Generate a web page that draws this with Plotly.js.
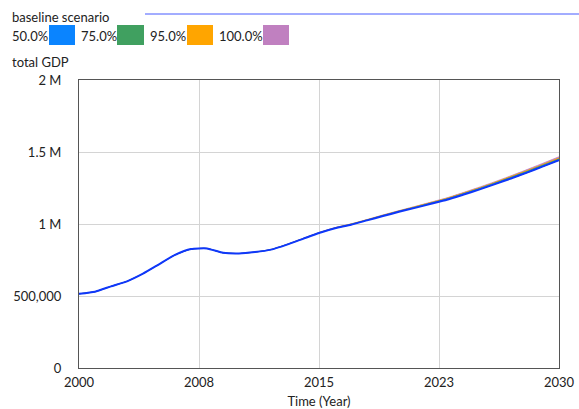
<!DOCTYPE html>
<html>
<head>
<meta charset="utf-8">
<script src="https://cdn.plot.ly/plotly-3.0.1.min.js"></script>
<style>html,body{margin:0;padding:0;background:#fff;}#chart{width:579px;height:409px;}</style>
</head>
<body>
<div id="chart"></div>
<script>
// Years
const years = [2000,2001,2002,2003,2004,2005,2006,2007,2008,2009,2010,2011,2012,2013,2014,2015,2016,2017,2018,2019,2020,2021,2022,2023,2024,2025,2026,2027,2028,2029,2030];
// baseline scenario: total GDP
const baseline = [515000,530000,567000,602000,655000,720000,785000,826000,830000,800000,795000,805000,822000,857000,897000,937000,970000,995000,1025000,1055000,1085000,1112000,1140000,1168000,1203000,1239000,1277000,1316000,1357000,1400000,1444000];
// sensitivity band lower bound (shared)
const bandLower = [515000,530000,567000,602000,655000,720000,785000,826000,830000,800000,795000,805000,822000,857000,897000,937000,970000,995000,1025000,1055000,1085000,1112000,1140000,1168000,1202000,1238000,1276000,1315000,1355000,1398000,1441000];
// upper bounds of the confidence bands
const upper50 = [515000,530000,567000,602000,655000,720000,785000,826000,830000,800000,795000,805000,822000,857000,897000,938000,971000,996000,1026000,1057000,1087000,1115000,1143000,1172000,1207000,1243000,1281000,1320000,1361000,1404000,1448000];
const upper75 = [515000,530000,567000,602000,655000,720000,785000,826000,830000,800000,795000,805000,822000,858000,898000,939000,972000,998000,1028000,1059000,1089000,1117000,1146000,1175000,1210000,1246000,1285000,1325000,1366000,1409000,1452000];
const upper95 = [515000,530000,567000,602000,655000,720000,785000,826000,830000,800000,795000,805000,823000,858000,899000,940000,974000,1000000,1030000,1061000,1091000,1120000,1149000,1179000,1214000,1250000,1289000,1330000,1371000,1414000,1458000];
const upper100 = [515000,530000,567000,602000,655000,720000,785000,826000,830000,800000,795000,805000,823000,859000,900000,941000,975000,1001000,1031000,1063000,1093000,1122000,1152000,1182000,1218000,1255000,1294000,1335000,1378000,1422000,1467000];

const bandNames = ['100.0%','95.0%','75.0%','50.0%'];
const bandUppers = [upper100, upper95, upper75, upper50];
const bandColors = ['rgb(192,128,192)','rgb(255,165,0)','rgb(64,160,96)','rgb(10,132,255)'];

const xTickVals = [2000,2007.5,2015,2022.5,2030];
const xTickText = ['2000','2008','2015','2023','2030'];
const yTickVals = [0,500000,1000000,1500000,2000000];
const yTickText = ['0','500,000','1 M','1.5 M','2 M'];

const traces = [];
bandUppers.forEach((u,i)=>{
  traces.push({x:years,y:bandLower,type:'scatter',mode:'lines',line:{width:0,color:bandColors[i],shape:'spline',smoothing:0.5},hoverinfo:'skip',showlegend:false});
  traces.push({x:years,y:u,type:'scatter',mode:'lines',fill:'tonexty',fillcolor:bandColors[i],line:{width:0.8,color:bandColors[i],shape:'spline',smoothing:0.5},name:bandNames[i],showlegend:false});
});
traces.push({x:years,y:baseline,type:'scatter',mode:'lines',line:{color:'rgb(15,55,250)',width:2,shape:'spline',smoothing:0.5},name:'baseline scenario',showlegend:false});

const font = {family:'Lato, "Open Sans", sans-serif', size:13, color:'#222'};
const annotations = [
  {text:'baseline scenario',x:10,y:17},
  {text:'50.0%',x:10,y:36},
  {text:'75.0%',x:79,y:36},
  {text:'95.0%',x:148,y:36},
  {text:'100.0%',x:217,y:36},
  {text:'total GDP',x:10,y:62}
].map(a=>({text:a.text,xref:'paper',yref:'paper',x:(a.x-79)/480,y:(368-a.y)/288,xanchor:'left',yanchor:'middle',showarrow:false,font:font}));

const px = v=>(v-79)/480, py = v=>(368-v)/288;
const shapes = [
  {type:'line',xref:'paper',yref:'paper',x0:px(145),x1:px(579),y0:py(14),y1:py(14),line:{color:'rgb(70,90,255)',width:1}},
];
[[49,75],[117,144],[187,213],[263,289]].forEach((s,i)=>{
  const col = bandColors[3-i];
  shapes.push({type:'rect',xref:'paper',yref:'paper',x0:px(s[0]),x1:px(s[1]),y0:py(45),y1:py(25),fillcolor:col,line:{width:0}});
});

const layout = {
  width:579,height:409,
  margin:{l:79,r:20,t:80,b:41},
  paper_bgcolor:'#fff',plot_bgcolor:'#fff',
  showlegend:false,
  font:font,
  xaxis:{range:[2000,2030],tickvals:xTickVals,ticktext:xTickText,showgrid:true,gridcolor:'#d4d4d4',gridwidth:1,
    showline:true,linecolor:'#555',linewidth:1,mirror:true,zeroline:false,ticks:'',tickfont:font,ticklabelstandoff:2,
    title:{text:'Time (Year)',font:font,standoff:9}},
  yaxis:{range:[0,2000000],tickvals:yTickVals,ticktext:yTickText,showgrid:true,gridcolor:'#d4d4d4',gridwidth:1,
    showline:true,linecolor:'#555',linewidth:1,mirror:true,zeroline:false,ticks:'',tickfont:font,ticklabelstandoff:14},
  annotations:annotations,
  shapes:shapes
};
Plotly.newPlot('chart',traces,layout,{staticPlot:true,displayModeBar:false});
</script>
</body>
</html>
